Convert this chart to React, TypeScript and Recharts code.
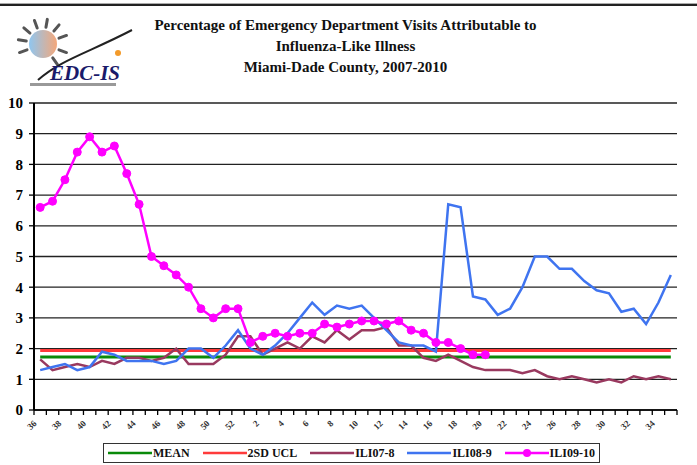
import { LineChart, Line, XAxis, YAxis, CartesianGrid } from "recharts"

const weeks = [
  "36","37","38","39","40","41","42","43","44","45","46","47","48","49","50","51","52",
  "1","2","3","4","5","6","7","8","9","10","11","12","13","14","15","16","17","18","19","20",
  "21","22","23","24","25","26","27","28","29","30","31","32","33","34","35",
]

const ili0708 = [
  1.65,1.3,1.4,1.5,1.4,1.6,1.5,1.7,1.7,1.6,1.7,2.0,1.5,1.5,1.5,1.8,2.4,
  2.4,1.8,2.0,2.2,2.0,2.4,2.2,2.6,2.3,2.6,2.6,2.7,2.1,2.1,1.7,1.6,1.8,1.6,1.4,1.3,
  1.3,1.3,1.2,1.3,1.1,1.0,1.1,1.0,0.9,1.0,0.9,1.1,1.0,1.1,1.0,
]

const ili0809 = [
  1.3,1.4,1.5,1.3,1.4,1.9,1.8,1.6,1.6,1.6,1.5,1.6,2.0,2.0,1.7,2.1,2.6,
  2.0,1.8,2.1,2.5,3.0,3.5,3.1,3.4,3.3,3.4,3.0,2.6,2.2,2.1,2.1,1.9,6.7,6.6,3.7,3.6,
  3.1,3.3,4.0,5.0,5.0,4.6,4.6,4.2,3.9,3.8,3.2,3.3,2.8,3.5,4.4,
]

const ili0910 = [
  6.6,6.8,7.5,8.4,8.9,8.4,8.6,7.7,6.7,5.0,4.7,4.4,4.0,3.3,3.0,3.3,3.3,
  2.2,2.4,2.5,2.4,2.5,2.5,2.8,2.7,2.8,2.9,2.9,2.8,2.9,2.6,2.5,2.2,2.2,2.0,1.8,1.8,
]

const MEAN_VALUE = 1.73
const UCL_VALUE = 1.94

const yTicks = [0, 1, 2, 3, 4, 5, 6, 7, 8, 9, 10]

const SERIES = [
  { key: "mean", name: "MEAN", color: "#0a8a0a" },
  { key: "ucl", name: "2SD UCL", color: "#ff3b3b" },
  { key: "ili0708", name: "ILI07-8", color: "#99395f" },
  { key: "ili0809", name: "ILI08-9", color: "#3f74f0" },
  { key: "ili0910", name: "ILI09-10", color: "#ff00ff" },
]

const rows = weeks.map((w, i) => ({
  week: w,
  mean: MEAN_VALUE,
  ucl: UCL_VALUE,
  ili0708: ili0708[i],
  ili0809: ili0809[i],
  ili0910: i < ili0910.length ? ili0910[i] : null,
}))

const SERIF = "'Liberation Serif', 'Times New Roman', serif"
const HALF_BAND = 643 / weeks.length / 2

function WeekTick(props: any) {
  const { x, y, payload, index } = props
  const last = index === weeks.length - 1
  return (
    <g>
      <line x1={x - HALF_BAND} y1={y} x2={x - HALF_BAND} y2={y + 5} stroke="#000" strokeWidth={1.3} />
      {last && <line x1={x + HALF_BAND} y1={y} x2={x + HALF_BAND} y2={y + 5} stroke="#000" strokeWidth={1.3} />}
      {index % 2 === 0 && (
        <text
          x={x - 3}
          y={y + 14}
          transform={`rotate(-45, ${x - 3}, ${y + 14})`}
          textAnchor="end"
          fontFamily={SERIF}
          fontWeight="bold"
          fontSize={9}
          fill="#333"
        >
          {payload.value}
        </text>
      )}
    </g>
  )
}

function Logo() {
  return (
    <svg width={140} height={95} style={{ position: "absolute", left: 0, top: 0 }}>
      <defs>
        <linearGradient id="sun" x1="0" y1="0" x2="1" y2="0">
          <stop offset="0%" stopColor="#8fc6f0" />
          <stop offset="100%" stopColor="#f4a77a" />
        </linearGradient>
      </defs>
      {[-20, 10, 40, 70, 100, 130, 160, 200, 235].map((a) => {
        const r = (a * Math.PI) / 180
        return (
          <line
            key={a}
            x1={43 - Math.cos(r) * 17}
            y1={44 - Math.sin(r) * 17}
            x2={43 - Math.cos(r) * 25}
            y2={44 - Math.sin(r) * 25}
            stroke="#555"
            strokeWidth={3}
            strokeLinecap="round"
          />
        )
      })}
      <circle cx={43} cy={44} r={14} fill="url(#sun)" />
      <path d="M38 80 C 60 60, 90 52, 132 30" stroke="#222" strokeWidth={2} fill="none" />
      <circle cx={118} cy={53} r={3} fill="#f39a2a" />
      <text x={50} y={80} fontFamily={SERIF} fontStyle="italic" fontWeight="bold" fontSize={21} fill="#1a1a6a">
        EDC-IS
      </text>
      <rect x={30} y={83} width={86} height={3} fill="#999" />
    </svg>
  )
}

export default function App() {
  return (
    <div style={{ position: "absolute", left: 0, top: 0, width: 697, height: 465, background: "#fff", overflow: "hidden" }}>
      <div style={{ position: "absolute", left: 0, top: 3, width: 697, height: 1, background: "#aaa" }} />
      <div style={{ position: "absolute", left: 0, top: 4, width: 697, height: 2, background: "#222" }} />
      <Logo />
      <div
        style={{
          position: "absolute",
          left: 0,
          top: 15,
          width: 691,
          textAlign: "center",
          fontFamily: SERIF,
          fontWeight: "bold",
          fontSize: 15,
          lineHeight: "21px",
          color: "#111",
        }}
      >
        <div>Percentage of Emergency Department Visits Attributable to</div>
        <div>Influenza-Like Illness</div>
        <div>Miami-Dade County, 2007-2010</div>
      </div>

      <LineChart width={697} height={465} data={rows} margin={{ top: 103, right: 20, left: 0, bottom: 25 }}>
        <CartesianGrid horizontal vertical={false} stroke="#222" strokeWidth={1.3} />
        <XAxis
          dataKey="week"
          interval={0}
          padding={{ left: HALF_BAND, right: HALF_BAND }}
          height={30}
          tickSize={0}
          tickMargin={0}
          tickLine={false}
          axisLine={{ stroke: "#000", strokeWidth: 1.5 }}
          tick={<WeekTick />}
        />
        <YAxis
          width={34}
          domain={[0, 10]}
          ticks={yTicks}
          interval={0}
          tickSize={5}
          tickMargin={6}
          axisLine={{ stroke: "#000", strokeWidth: 2 }}
          tickLine={{ stroke: "#000", strokeWidth: 1.3 }}
          tick={{ fontFamily: SERIF, fontWeight: "bold", fontSize: 15, fill: "#000" }}
        />
        <Line dataKey="mean" stroke={SERIES[0].color} strokeWidth={3} dot={false} isAnimationActive={false} />
        <Line dataKey="ucl" stroke={SERIES[1].color} strokeWidth={3} dot={false} isAnimationActive={false} />
        <Line dataKey="ili0708" stroke={SERIES[2].color} strokeWidth={2.5} dot={false} isAnimationActive={false} />
        <Line dataKey="ili0809" stroke={SERIES[3].color} strokeWidth={2.5} dot={false} isAnimationActive={false} />
        <Line
          dataKey="ili0910"
          stroke={SERIES[4].color}
          strokeWidth={2.5}
          dot={{ r: 4, fill: SERIES[4].color, stroke: SERIES[4].color, strokeWidth: 1 }}
          isAnimationActive={false}
        />
      </LineChart>

      {/* legend */}
      <div
        style={{
          position: "absolute",
          left: 103,
          top: 443,
          width: 497,
          height: 20,
          border: "1.5px solid #333",
          display: "flex",
          alignItems: "center",
          justifyContent: "space-between",
          padding: "0 4px",
          boxSizing: "border-box",
          fontFamily: SERIF,
          fontWeight: "bold",
          fontSize: 12,
          color: "#111",
        }}
      >
        {SERIES.map((s, i) => (
          <div key={s.key} style={{ display: "flex", alignItems: "center" }}>
            <svg width={44} height={12}>
              <line x1={0} y1={6} x2={44} y2={6} stroke={s.color} strokeWidth={2.5} />
              {i === 4 && <circle cx={22} cy={6} r={4} fill={s.color} />}
            </svg>
            <span style={{ marginLeft: 1 }}>{s.name}</span>
          </div>
        ))}
      </div>
    </div>
  )
}
